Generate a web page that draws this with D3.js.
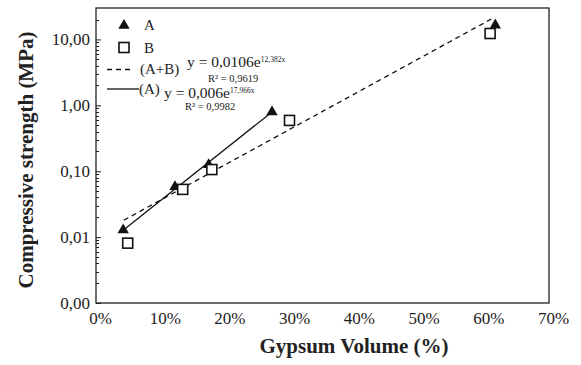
<!DOCTYPE html>
<html>
<head>
<meta charset="utf-8">
<script src="https://cdn.jsdelivr.net/npm/d3@7"></script>
<style>
  body { margin: 0; background: #fff; }
  svg { display: block; font-family: "Liberation Serif", "Times New Roman", serif; }
</style>
</head>
<body>
<script>
// chart data
var xTicks = [0, 10, 20, 30, 40, 50, 60, 70];          // gypsum volume, %
var yTicks = [0.001, 0.01, 0.1, 1, 10];                  // MPa
var seriesAx = [4.2, 12.2, 17.4, 27.2, 61.7];
var seriesAy = [0.0128, 0.058, 0.125, 0.79, 16.5];
var seriesBx = [4.9, 13.4, 17.9, 29.9, 60.9];
var seriesBy = [0.0081, 0.053, 0.106, 0.59, 12.3];
// exponential trend lines y = a e^(b x), x as a fraction
var fitAB = { a: 0.0106, b: 12.382, from: 4.3, to: 61.6, r2: "0,9619" };
var fitA  = { a: 0.006,  b: 17.966, from: 4.2, to: 27.2, r2: "0,9982" };

window.onload = function(){

    var w = 581, h = 365;
    var left = 96, right = 549, top = 8, bottom = 303;

    var svg = d3.select("body").append("svg")
        .attr("width", w)
        .attr("height", h);

    var x = d3.scaleLinear().domain([0, 70]).range([left, right]);
    var y = d3.scaleLog().domain([0.001, 30]).range([bottom, top]);

    var loc = d3.formatLocale({decimal: ",", thousands: ".", grouping: [3], currency: ["", ""]});
    var fmt = loc.format(".2f");

    // minor log ticks, inside the frame
    var minor = [];
    [0.001, 0.01, 0.1, 1, 10].forEach(function(d){
        for (var k = 2; k <= 9; k++) { if (d * k < 30) minor.push(d * k); }
    });
    svg.append("g").selectAll("line")
        .data(minor).enter().append("line")
        .attr("x1", left).attr("x2", left + 3)
        .attr("y1", function(d){ return Math.round(y(d)) + 0.5; })
        .attr("y2", function(d){ return Math.round(y(d)) + 0.5; })
        .attr("stroke", "#222").attr("stroke-width", 1);

    var yAxis = d3.axisRight(y).tickValues(yTicks).tickSize(5).tickFormat("");
    svg.append("g")
        .attr("transform", "translate(" + left + ",0)")
        .call(yAxis)
        .call(function(g){ g.select(".domain").remove(); g.selectAll("line").attr("stroke", "#222"); });

    // y tick labels
    svg.append("g").selectAll("text")
        .data(yTicks).enter().append("text")
        .attr("x", left - 6)
        .attr("y", function(d){ return y(d); })
        .attr("dy", "0.35em")
        .attr("text-anchor", "end")
        .style("font-size", "17px")
        .attr("fill", "#222")
        .text(function(d){ return fmt(d); });

    // x tick labels (no tick marks in the original)
    var xAxis = d3.axisBottom(x).tickValues(xTicks).tickSize(0).tickPadding(9)
        .tickFormat(function(d){ return d + "%"; });
    svg.append("g")
        .attr("transform", "translate(4," + bottom + ")")
        .call(xAxis)
        .call(function(g){
            g.select(".domain").remove();
            g.selectAll("text").style("font-size", "17px").attr("fill", "#222")
                .style("font-family", "'Liberation Serif', serif");
        });

    // frame
    svg.append("rect")
        .attr("x", left).attr("y", top)
        .attr("width", right - left).attr("height", bottom - top)
        .attr("fill", "none").attr("stroke", "#222").attr("stroke-width", 1.3);

    // trend lines
    function fitPoints(f){
        return [f.from, f.to].map(function(v){ return [v, f.a * Math.exp(f.b * v / 100)]; });
    }
    var line = d3.line()
        .x(function(d){ return x(d[0]); })
        .y(function(d){ return y(d[1]); });

    svg.append("path").datum(fitPoints(fitAB))
        .attr("d", line).attr("fill", "none")
        .attr("stroke", "#111").attr("stroke-width", 1.3).attr("stroke-dasharray", "5,4");
    svg.append("path").datum(fitPoints(fitA))
        .attr("d", line).attr("fill", "none")
        .attr("stroke", "#111").attr("stroke-width", 1.3);

    // markers: A first, B drawn over it
    var tri = d3.symbol().type(d3.symbolTriangle).size(56);
    var dataA = seriesAx.map(function(v, i){ return {x: v, y: seriesAy[i]}; });
    var dataB = seriesBx.map(function(v, i){ return {x: v, y: seriesBy[i]}; });

    svg.append("g").selectAll("path")
        .data(dataA).enter().append("path")
        .attr("d", tri)
        .attr("transform", function(d){ return "translate(" + x(d.x) + "," + y(d.y) + ")"; })
        .attr("fill", "#111");

    svg.append("g").selectAll("rect")
        .data(dataB).enter().append("rect")
        .attr("x", function(d){ return x(d.x) - 5; })
        .attr("y", function(d){ return y(d.y) - 5; })
        .attr("width", 10).attr("height", 10)
        .attr("fill", "#fff").attr("stroke", "#111").attr("stroke-width", 1.6);

    // legend
    var lg = svg.append("g").style("font-size", "15px").attr("fill", "#222");
    lg.append("path").attr("d", tri).attr("transform", "translate(124,25.5)").attr("fill", "#111");
    lg.append("text").attr("x", 144).attr("y", 29.5).text("A");
    lg.append("rect").attr("x", 119).attr("y", 42.5).attr("width", 10).attr("height", 10)
        .attr("fill", "#fff").attr("stroke", "#111").attr("stroke-width", 1.6);
    lg.append("text").attr("x", 144).attr("y", 52.5).text("B");
    lg.append("line").attr("x1", 107).attr("x2", 132).attr("y1", 69.5).attr("y2", 69.5)
        .attr("stroke", "#111").attr("stroke-width", 1.3).attr("stroke-dasharray", "5,4");
    lg.append("text").attr("x", 140).attr("y", 74).text("(A+B)");
    lg.append("line").attr("x1", 107).attr("x2", 139).attr("y1", 89).attr("y2", 89)
        .attr("stroke", "#111").attr("stroke-width", 1.3);
    lg.append("text").attr("x", 139).attr("y", 94).text("(A)");

    // equations
    function equation(tx, ty, ry, f, coef){
        var t = svg.append("text").attr("x", tx).attr("y", ty)
            .style("font-size", "15.5px").attr("fill", "#222");
        t.append("tspan").text("y = " + coef + "e");
        t.append("tspan").attr("dy", -5).style("font-size", "7.5px")
            .text(String(f.b).replace(".", ",") + "x");
        svg.append("text").attr("x", tx + 21).attr("y", ry)
            .style("font-size", "10.5px").attr("fill", "#222")
            .text("R\u00b2 = " + f.r2);
    }
    equation(187, 67, 81.5, fitAB, "0,0106");
    equation(164, 98, 110, fitA, "0,006");

    // axis titles
    svg.append("text")
        .attr("x", 354).attr("y", 353)
        .attr("text-anchor", "middle")
        .style("font-size", "21px").style("font-weight", "bold").attr("fill", "#222")
        .text("Gypsum Volume (%)");

    svg.append("text")
        .attr("transform", "translate(33,160) rotate(-90)")
        .attr("text-anchor", "middle")
        .style("font-size", "21px").style("font-weight", "bold").attr("fill", "#222")
        .text("Compressive strength (MPa)");
};
</script>
</body>
</html>
